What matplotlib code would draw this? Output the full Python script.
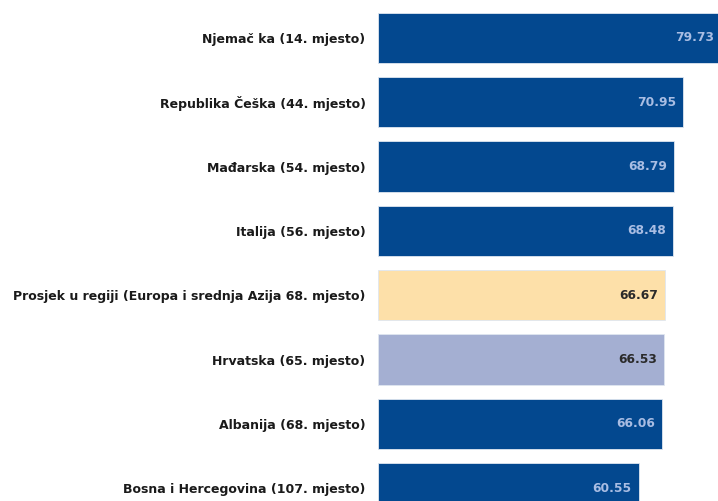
import matplotlib.pyplot as plt
import numpy as np

# data
countries = [
    'Njemač ka (14. mjesto)',
    'Republika Češka (44. mjesto)',
    'Mađarska (54. mjesto)',
    'Italija (56. mjesto)',
    'Prosjek u regiji (Europa i srednja Azija 68. mjesto)',
    'Hrvatska (65. mjesto)',
    'Albanija (68. mjesto)',
    'Bosna i Hercegovina (107. mjesto)',
]
scores = [79.73, 70.95, 68.79, 68.48, 66.67, 66.53, 66.06, 60.55]

dark_blue = '#03488f'
bar_colors = [dark_blue] * 4 + ['#fde0a9', '#a4afd2'] + [dark_blue] * 2
text_colors = ['#a9bde3'] * 4 + ['#2a2a2a', '#2a2a2a'] + ['#a9bde3'] * 2

fig = plt.figure(figsize=(7.18, 5.01), dpi=100)
ax = fig.add_axes([378 / 718, 0, 340 / 718, 1])

ypos = np.arange(len(countries))
ax.barh(ypos, scores, height=0.78, color=bar_colors, edgecolor='#dfe6f0', linewidth=0.6)

for y, v, tc in zip(ypos, scores, text_colors):
    ax.annotate(f'{v:.2f}', xy=(v, y), xytext=(-5, 0), textcoords='offset points',
                ha='right', va='center', fontsize=8.8, fontweight='bold',
                color=tc, annotation_clip=False)

ax.set_xlim(0, 79.0)
ax.set_ylim(7.2, -0.59)
ax.set_yticks(ypos)
ax.set_yticklabels(countries, fontsize=9, fontweight='bold', color='#1a1a1a')
ax.tick_params(axis='y', length=0, pad=9)
ax.set_xticks([])
for s in ax.spines.values():
    s.set_visible(False)

fig.savefig('out.png', dpi=100)
